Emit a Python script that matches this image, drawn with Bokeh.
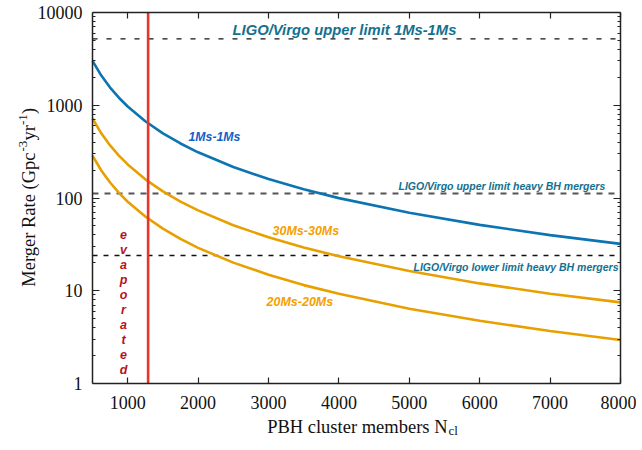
import math
from bokeh.plotting import figure
from bokeh.models import Label, FixedTicker, LinearAxis, LogAxis, NumeralTickFormatter
from bokeh.embed import file_html
from bokeh.resources import INLINE

# ---------------- data ----------------
n_cl = [500, 625, 750, 875, 1000, 1250, 1500, 1750, 2000, 2500, 3000, 3500, 4000, 5000, 6000, 7000, 8000]
rate_1ms = [3010, 2090, 1550, 1206, 970, 672, 498, 387, 311, 216, 160, 124, 99.7, 69.2, 51.3, 39.8, 32.0]
rate_30ms = [720, 498, 369, 286, 230, 159, 118, 91.5, 73.5, 50.9, 37.7, 29.3, 23.5, 16.3, 12.0, 9.3, 7.5]
rate_20ms = [286, 198, 147, 113.6, 91.2, 63.1, 46.7, 36.2, 29.0, 20.1, 14.9, 11.5, 9.26, 6.41, 4.74, 3.68, 2.95]

limit_1ms = 5200          # LIGO/Virgo upper limit 1Ms-1Ms
limit_heavy_upper = 112   # LIGO/Virgo upper limit heavy BH mergers
limit_heavy_lower = 24    # LIGO/Virgo lower limit heavy BH mergers
evaporation_n = 1290      # clusters below this have evaporated

x_ticks = [1000, 2000, 3000, 4000, 5000, 6000, 7000, 8000]
y_ticks = [1, 10, 100, 1000, 10000]
y_minor = [m * d for d in [1, 10, 100, 1000] for m in range(2, 10)]

X0, X1, Y0, Y1 = 500, 8000, 1, 10000

# canvas and plot-box geometry (pixels)
W, H = 636, 446
FL, FR, FT, FB = 92, 620, 12, 383
xpp = (X1 - X0) / (FR - FL)
dpp = (math.log10(Y1) - math.log10(Y0)) / (FB - FT)
x_lo, x_hi = X0 - FL * xpp, X1 + (W - FR) * xpp
y_lo = 10 ** (math.log10(Y0) - (H - FB) * dpp)
y_hi = 10 ** (math.log10(Y1) + FT * dpp)

def dx(px):
    return X0 + (px - FL) * xpp
def dy(py):
    return 10 ** (math.log10(Y1) - (py - FT) * dpp)

p = figure(width=W, height=H, x_range=(x_lo, x_hi), y_range=(y_lo, y_hi), y_axis_type="log",
           output_backend="svg", toolbar_location=None,
           min_border_left=0, min_border_right=0, min_border_top=0, min_border_bottom=0)
p.grid.visible = False
p.outline_line_color = None
p.background_fill_color = "white"
p.border_fill_color = "white"

SERIF = "Liberation Serif"
SANS = "Liberation Sans"
INK = "#222222"

def style_axis(ax, labels=True, minor=False, tick_in=6):
    ax.axis_line_color = INK
    ax.axis_line_width = 1.5
    ax.major_tick_line_color = INK
    ax.major_tick_line_width = 1.2
    ax.major_tick_in = tick_in
    ax.major_tick_out = 0
    if minor:
        ax.minor_tick_line_color = INK
        ax.minor_tick_line_width = 1.0
        ax.minor_tick_in = 3
        ax.minor_tick_out = 0
    else:
        ax.minor_tick_line_color = None
    if labels:
        ax.major_label_text_font = SERIF
        ax.major_label_text_font_size = "18px"
        ax.major_label_text_color = "#111111"
    else:
        ax.major_label_text_font_size = "0px"
        ax.major_label_text_color = None
        ax.major_label_standoff = 0

bottom = p.xaxis[0]
bottom.ticker = FixedTicker(ticks=x_ticks)
bottom.formatter = NumeralTickFormatter(format="0")
bottom.fixed_location = Y0
bottom.bounds = (X0, X1)
style_axis(bottom)
bottom.major_label_standoff = 12

left = p.yaxis[0]
left.ticker = FixedTicker(ticks=y_ticks, minor_ticks=y_minor)
left.formatter = NumeralTickFormatter(format="0")
left.fixed_location = X0
left.bounds = (Y0, Y1)
style_axis(left, minor=True, tick_in=7)
left.major_label_standoff = 10

top = LinearAxis(ticker=FixedTicker(ticks=x_ticks), fixed_location=Y1, bounds=(X0, X1))
style_axis(top, labels=False)
p.add_layout(top, "above")
right = LogAxis(ticker=FixedTicker(ticks=y_ticks, minor_ticks=y_minor), fixed_location=X1,
                bounds=(Y0, Y1))
style_axis(right, labels=False, minor=True, tick_in=7)
p.add_layout(right, "right")

# ---------------- reference lines ----------------
p.segment(x0=[X0], y0=[limit_1ms], x1=[X1], y1=[limit_1ms], line_color="#111111",
          line_width=1.3, line_dash="5 9")
p.segment(x0=[X0], y0=[limit_heavy_upper], x1=[X1], y1=[limit_heavy_upper],
          line_color="#555555", line_width=2.0, line_dash="6 6")
p.segment(x0=[X0], y0=[limit_heavy_lower], x1=[X1], y1=[limit_heavy_lower],
          line_color="#111111", line_width=1.3, line_dash="5 6")

# ---------------- merger-rate curves ----------------
p.line(n_cl, rate_1ms, line_color="#0d74b2", line_width=2.6)
p.line(n_cl, rate_30ms, line_color="#e8a000", line_width=2.6)
p.line(n_cl, rate_20ms, line_color="#e8a000", line_width=2.6)

p.segment(x0=[evaporation_n], y0=[Y0], x1=[evaporation_n], y1=[Y1], line_color="#e8342a",
          line_width=2.6)

# ---------------- annotations ----------------
def lab(text, px, py, size, color, align="left", font=SANS, style="bold italic",
        baseline="middle", angle=0.0):
    p.add_layout(Label(x=dx(px), y=dy(py), text=text, text_font=font, text_font_size=size,
                       text_font_style=style, text_color=color, text_align=align,
                       text_baseline=baseline, angle=angle))

teal = "#14708f"
lab("LIGO/Virgo upper limit 1Ms-1Ms", 232, 29, "14.8px", teal)
lab("LIGO/Virgo upper limit heavy BH mergers", 398, 185, "10.5px", teal)
lab("LIGO/Virgo lower limit heavy BH mergers", 413, 266, "10.5px", teal)
lab("1Ms-1Ms", 188, 136.5, "12.3px", "#1560c5")
lab("30Ms-30Ms", 272, 230, "12.5px", "#f5a000")
lab("20Ms-20Ms", 266, 301.5, "12.5px", "#f5a000")
for i, ch in enumerate("evaporated"):
    lab(ch, 123, 234 + 15 * i, "12.5px", "#b5141a", align="center")

# axis titles
def tlab(text, px, py, size, align="left", angle=0.0):
    lab(text, px, py, size, "#111111", align=align, font=SERIF, style="normal",
        baseline="alphabetic", angle=angle)

tlab("PBH cluster members N", 447, 426, "18.5px", align="right")
tlab("cl", 448, 430, "13px")

R = math.pi / 2
tlab("Merger Rate (Gpc", 28, 152, "18.5px", align="right", angle=R)
tlab("-3", 22, 151, "13px", angle=R)
tlab("yr", 28, 140, "18.5px", angle=R)
tlab("-1", 22, 124.5, "13px", angle=R)
tlab(")", 28, 113.5, "18.5px", angle=R)

open("out.html", "w").write(file_html(p, INLINE))
